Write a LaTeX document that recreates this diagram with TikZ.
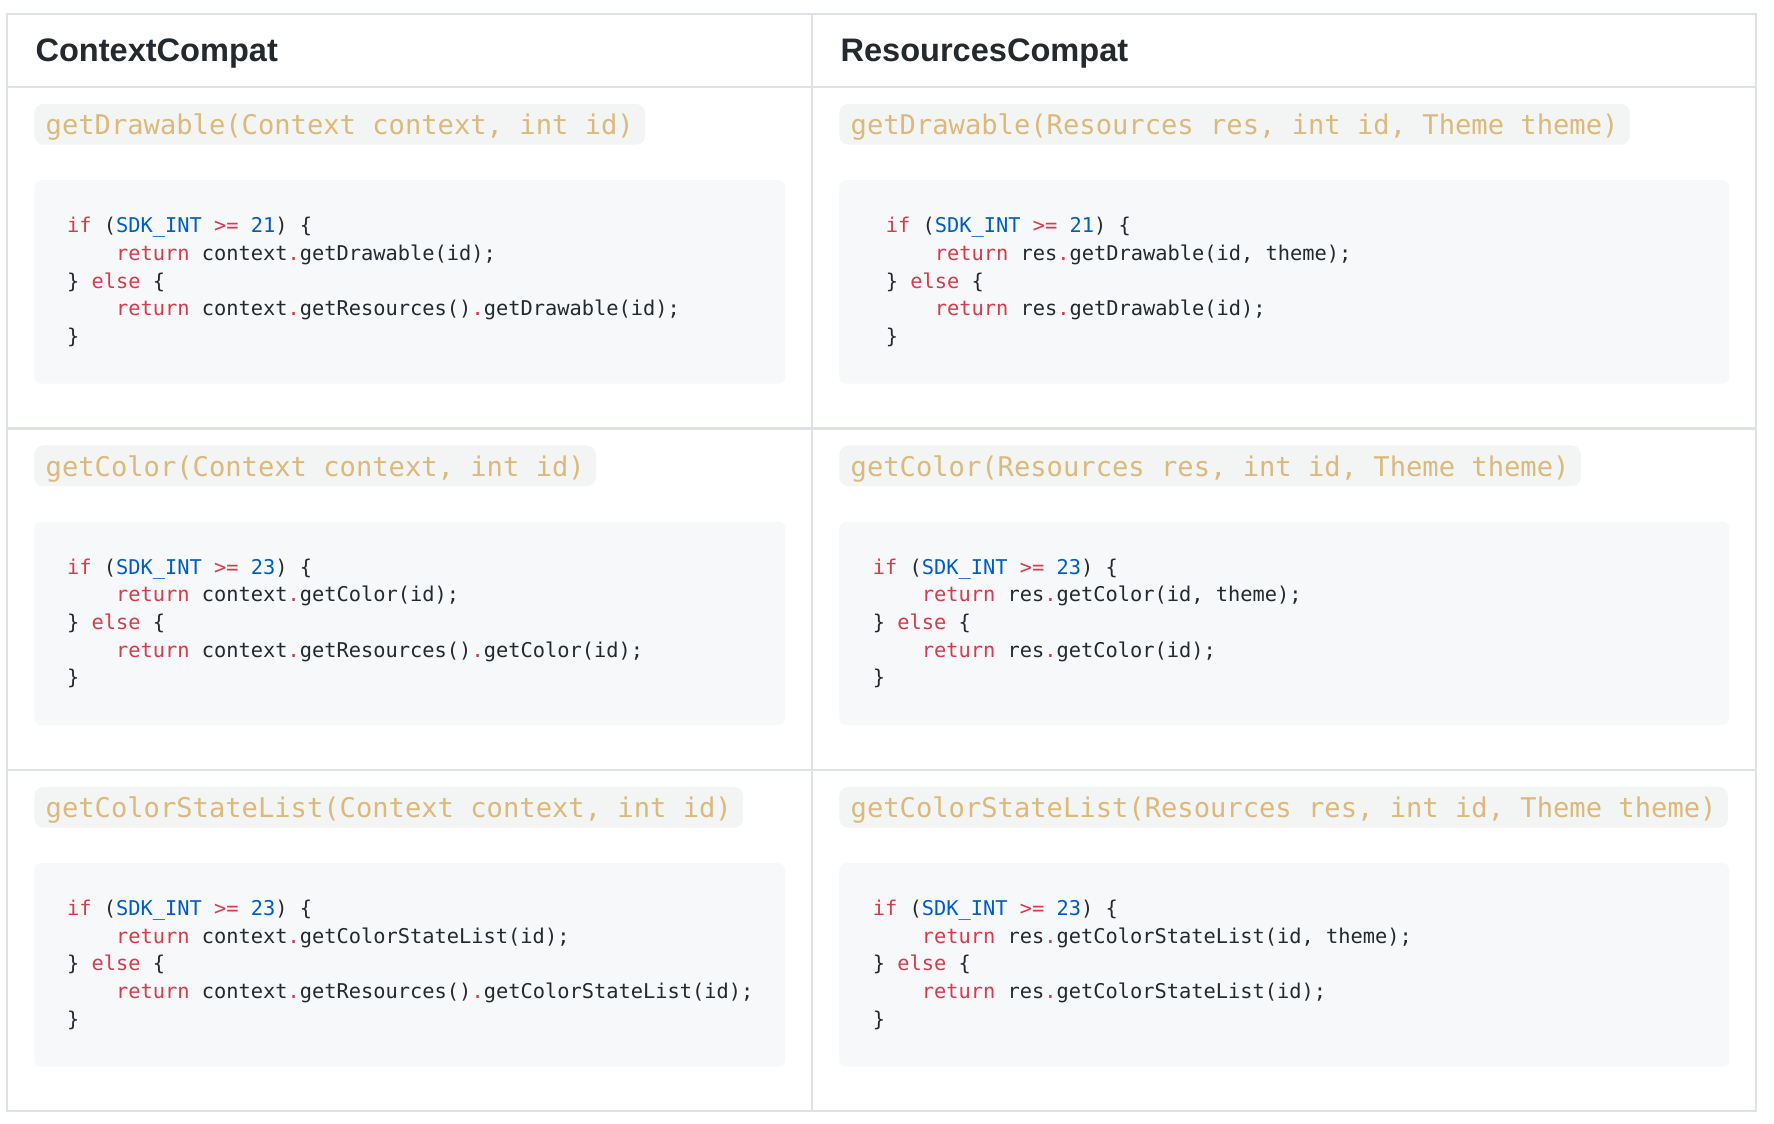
\documentclass[tikz,border=0pt]{standalone}
\usepackage{fontspec}
\setmainfont{Liberation Sans}
\newfontfamily\monofont{DejaVu Sans Mono}
\usepackage{xcolor}
\usepackage{tikz}
\usetikzlibrary{positioning}

\definecolor{ink}{HTML}{24292E}
\definecolor{kwred}{HTML}{D73A49}
\definecolor{numblue}{HTML}{005CC5}
\definecolor{sigtan}{HTML}{DBB97A}
\definecolor{pillbg}{HTML}{F3F4F4}
\definecolor{boxbg}{HTML}{F6F8FA}
\definecolor{rulegray}{HTML}{DFE2E5}

\newcommand{\kw}[1]{\textcolor{kwred}{#1}}
\newcommand{\nb}[1]{\textcolor{numblue}{#1}}
\newcommand{\dt}{\kw{.}}
\newcommand{\ind}{\hphantom{xxxx}}

\begin{document}
\begin{tikzpicture}[
          x=0.5pt, y=-0.5pt,
          gridline/.style={draw=rulegray,line width=0.9pt},
          colhead/.style={anchor=base west,inner sep=0pt,text=ink,
                          font={\bfseries\fontsize{14.4}{16}\selectfont}},
          sigpill/.style={anchor=west,fill=pillbg,rounded corners=4pt,
                          inner xsep=5pt,inner ysep=0pt,minimum height=18pt,
                          text height=9.4pt,text depth=0pt,text=sigtan,
                          font={\monofont\fontsize{12}{14}\selectfont}},
          codebox/.style={anchor=north west,fill=boxbg,rounded corners=3pt,
                          inner sep=0pt,minimum height=90pt,minimum width=#1},
          codelines/.style={anchor=west,inner sep=0pt,align=left,text=ink,
                          font={\monofont\fontsize{9}{12.25}\selectfont\frenchspacing}}
          ]

          \fill[white] (0,0) rectangle (1569,994);
          \useasboundingbox (0,0) rectangle (1569,994);

          % table grid
          \draw[gridline] (6,12) rectangle (1553,983);
          \draw[gridline] (718,12) -- (718,983);
          \foreach \y in {77,379,681}
            \draw[gridline] (6,\y) -- (1553,\y);

          \node[colhead] (ctxHead) at (31,54.5) {ContextCompat};
          \node[colhead] (resHead) at (743,54.5) {ResourcesCompat};

          % getDrawable
          \node[sigpill] (ctxDraw) at (30,110) {getDrawable(Context context, int id)};
          \node[codebox=332pt] (ctxDrawBox) at (30,159) {};
          \node[codelines] (ctxDrawCode) at ([xshift=14.5pt]ctxDrawBox.west)
            {\kw{if} (\nb{SDK\_INT} \kw{>=} \nb{21}) \{\\
             \ind\kw{return} context\dt getDrawable(id);\\
             \} \kw{else} \{\\
             \ind\kw{return} context\dt getResources()\dt getDrawable(id);\\
             \}};

          \node[sigpill] (resDraw) at (742,110) {getDrawable(Resources res, int id, Theme theme)};
          \node[codebox=393.5pt] (resDrawBox) at (742,159) {};
          \node[codelines] (resDrawCode) at ([xshift=20.5pt]resDrawBox.west)
            {\kw{if} (\nb{SDK\_INT} \kw{>=} \nb{21}) \{\\
             \ind\kw{return} res\dt getDrawable(id, theme);\\
             \} \kw{else} \{\\
             \ind\kw{return} res\dt getDrawable(id);\\
             \}};

          % getColor
          \node[sigpill] (ctxColor) at (30,412) {getColor(Context context, int id)};
          \node[codebox=332pt] (ctxColorBox) at (30,461) {};
          \node[codelines] (ctxColorCode) at ([xshift=14.5pt]ctxColorBox.west)
            {\kw{if} (\nb{SDK\_INT} \kw{>=} \nb{23}) \{\\
             \ind\kw{return} context\dt getColor(id);\\
             \} \kw{else} \{\\
             \ind\kw{return} context\dt getResources()\dt getColor(id);\\
             \}};

          \node[sigpill] (resColor) at (742,412) {getColor(Resources res, int id, Theme theme)};
          \node[codebox=393.5pt] (resColorBox) at (742,461) {};
          \node[codelines] (resColorCode) at ([xshift=14.75pt]resColorBox.west)
            {\kw{if} (\nb{SDK\_INT} \kw{>=} \nb{23}) \{\\
             \ind\kw{return} res\dt getColor(id, theme);\\
             \} \kw{else} \{\\
             \ind\kw{return} res\dt getColor(id);\\
             \}};

          % getColorStateList
          \node[sigpill] (ctxState) at (30,714) {getColorStateList(Context context, int id)};
          \node[codebox=332pt] (ctxStateBox) at (30,763) {};
          \node[codelines] (ctxStateCode) at ([xshift=14.5pt]ctxStateBox.west)
            {\kw{if} (\nb{SDK\_INT} \kw{>=} \nb{23}) \{\\
             \ind\kw{return} context\dt getColorStateList(id);\\
             \} \kw{else} \{\\
             \ind\kw{return} context\dt getResources()\dt getColorStateList(id);\\
             \}};

          \node[sigpill] (resState) at (742,714) {getColorStateList(Resources res, int id, Theme theme)};
          \node[codebox=393.5pt] (resStateBox) at (742,763) {};
          \node[codelines] (resStateCode) at ([xshift=14.75pt]resStateBox.west)
            {\kw{if} (\nb{SDK\_INT} \kw{>=} \nb{23}) \{\\
             \ind\kw{return} res\dt getColorStateList(id, theme);\\
             \} \kw{else} \{\\
             \ind\kw{return} res\dt getColorStateList(id);\\
             \}};
        \end{tikzpicture}
\end{document}
